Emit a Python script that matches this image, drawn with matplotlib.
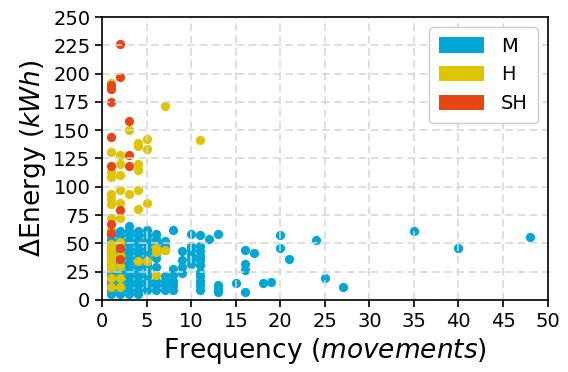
import numpy as np
import matplotlib.pyplot as plt
from matplotlib.patches import Patch

# M series (blue)
m_cols = {
    1: [5, 9, 13, 17, 21, 25, 29, 33, 37, 41, 45, 49, 53, 57, 62],
    2: [5, 9, 13, 17, 21, 25, 29, 33, 37, 41, 45, 49, 53, 57, 61],
    3: [5, 9, 13, 17, 21, 25, 29, 33, 37, 41, 45, 49, 53, 57, 61, 65],
    4: [5, 9, 13, 17, 21, 25, 29, 33, 37, 41, 45, 49, 53, 57, 61],
    5: [9, 13, 17, 21, 25, 29, 33, 37, 41, 45, 49, 53, 57, 62],
    6: [9, 13, 17, 29, 37, 41, 46, 50, 54, 58],
    7: [9, 13, 17, 21, 44, 48, 52],
    8: [9, 13, 17, 22, 27, 62],
    9: [24, 29, 35, 43],
    10: [32, 36, 40, 44, 48, 58],
    11: [9, 13, 17, 21, 25, 31, 35, 39, 43, 48, 57],
    12: [54],
    13: [7, 10, 13, 58],
    15: [15],
    16: [7, 26, 32, 44],
    17: [41],
    18: [15],
    19: [16],
    20: [46, 57],
    21: [36],
    24: [53],
    25: [19],
    27: [11],
    35: [61],
    40: [46],
    48: [56],
}
# H series (yellow)
h_cols = {
    1: [192, 131, 113, 109, 94, 89, 85, 72, 62, 49, 45, 41, 37, 33, 28, 19, 11],
    2: [128, 120, 110, 97, 86, 72, 51, 40, 30, 19, 11],
    3: [150, 94],
    4: [139, 136, 120, 115, 97, 80, 34],
    5: [142, 133, 86, 34],
    6: [46, 42, 22],
    7: [171, 44],
    11: [141],
}
# SH series (red)
sh_cols = {
    1: [190, 186, 175, 144, 118, 67, 59],
    2: [226, 197, 79, 46, 36],
    3: [158, 128, 118],
}

labels = ['M', 'H', 'SH']
colors = ['#00A6D6', '#E1C400', '#E64616']


def flatten(cols):
    xs, ys = [], []
    for k, v in cols.items():
        for y in v:
            xs.append(k)
            ys.append(y)
    return xs, ys


fig = plt.figure(figsize=(5.68, 3.72), dpi=100)
ax = fig.add_axes([0.18, 0.194, 0.784, 0.76])

for cols, c in zip([m_cols, h_cols, sh_cols], colors):
    xs, ys = flatten(cols)
    ax.scatter(xs, ys, s=44, color=c, linewidths=0, zorder=1)

ax.set_xlim(0, 50)
ax.set_ylim(0, 250)
ax.set_xticks(np.arange(0, 51, 5))
ax.set_yticks(np.arange(0, 251, 25))
ax.tick_params(labelsize=14, length=5, width=1.2, direction='out')
for s in ax.spines.values():
    s.set_linewidth(1.2)
    s.set_zorder(4)
ax.set_axisbelow(False)
ax.grid(True, linestyle=(0, (5, 3)), color='#d5d5d5', linewidth=1.1, zorder=2)

ax.set_xlabel('Frequency ($movements$)', fontsize=19)
ax.set_ylabel('ΔEnergy ($kWh$)', fontsize=19)

handles = [Patch(facecolor=c, label=l) for c, l in zip(colors, labels)]
leg = ax.legend(handles=handles, loc='upper right', fontsize=14,
                handlelength=2.3, handleheight=0.85, borderpad=0.5,
                labelspacing=0.5, handletextpad=0.9, framealpha=1,
                borderaxespad=0.5)
leg.set_zorder(5)

fig.savefig('out.png', dpi=100)
